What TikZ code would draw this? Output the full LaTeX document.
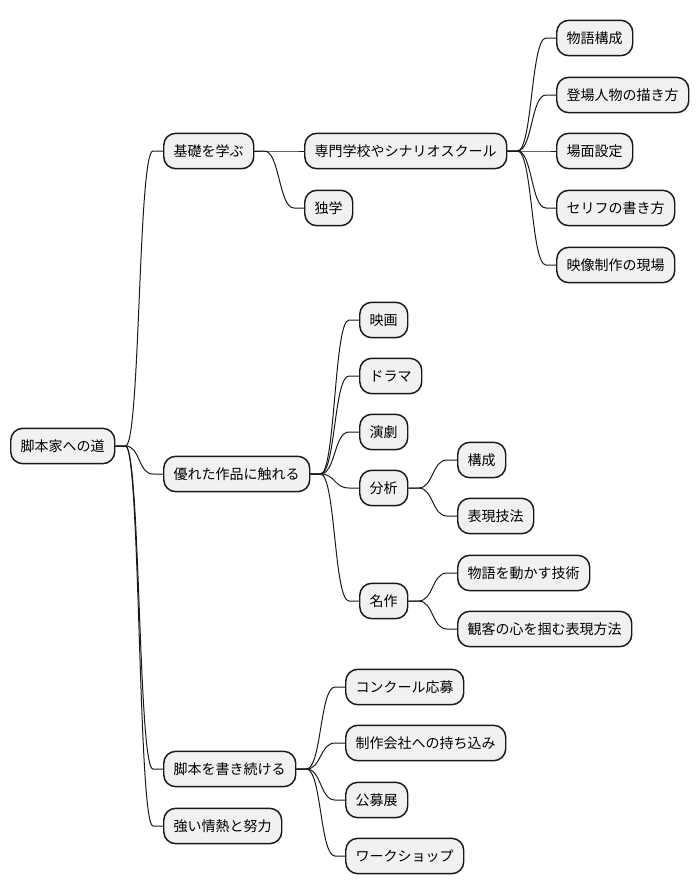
\documentclass[tikz,border=0pt]{standalone}
\usepackage{fontspec}
\setmainfont{Noto Sans CJK JP}
\usetikzlibrary{calc}

\begin{document}
\begin{tikzpicture}[
        x=0.75pt, y=-0.75pt,
        tema/.style={
            rectangle,
            rounded corners=9pt,
            anchor=west,
            minimum height=26.5pt,
            inner xsep=7.5pt,
            inner ysep=2pt,
            font=\fontsize{10.5}{12}\selectfont,
            draw=black!90,
            line width=1.1pt,
            fill=black!5.5
        },
        rama/.style={line width=0.75pt, draw=black!90}
    ]
        \useasboundingbox (0,0) rectangle (698,893);

        \node[tema] (raiz) at (10,446) {脚本家への道};

        \node[tema] (kiso) at (163,151) {基礎を学ぶ};
        \node[tema] (senmon) at (304,151) {専門学校やシナリオスクール};
        \node[tema] (dokugaku) at (304,208) {独学};
        \node[tema] (monogatari) at (556,38) {物語構成};
        \node[tema] (jinbutsu) at (556,95) {登場人物の描き方};
        \node[tema] (bamen) at (556,151) {場面設定};
        \node[tema] (serifu) at (556,208) {セリフの書き方};
        \node[tema] (genba) at (556,265) {映像制作の現場};

        \node[tema] (sakuhin) at (163,474) {優れた作品に触れる};
        \node[tema] (eiga) at (359,320) {映画};
        \node[tema] (dorama) at (359,376) {ドラマ};
        \node[tema] (engeki) at (359,432) {演劇};
        \node[tema] (bunseki) at (359,488) {分析};
        \node[tema] (kousei) at (457,460) {構成};
        \node[tema] (gihou) at (457,516) {表現技法};
        \node[tema] (meisaku) at (359,601) {名作};
        \node[tema] (gijutsu) at (457,573) {物語を動かす技術};
        \node[tema] (houhou) at (457,629) {観客の心を掴む表現方法};

        \node[tema] (kaku) at (163,769) {脚本を書き続ける};
        \node[tema] (konkuru) at (345,687) {コンクール応募};
        \node[tema] (mochikomi) at (345,743) {制作会社への持ち込み};
        \node[tema] (koubo) at (345,800) {公募展};
        \node[tema] (wakushoppu) at (345,856) {ワークショップ};

        \node[tema] (jounetsu) at (163,826) {強い情熱と努力};

        \foreach \a/\b in {raiz/kiso, raiz/sakuhin, raiz/kaku, raiz/jounetsu,
                kiso/senmon, kiso/dokugaku,
                senmon/monogatari, senmon/jinbutsu, senmon/bamen, senmon/serifu, senmon/genba,
                sakuhin/eiga, sakuhin/dorama, sakuhin/engeki, sakuhin/bunseki, sakuhin/meisaku,
                bunseki/kousei, bunseki/gihou, meisaku/gijutsu, meisaku/houhou,
                kaku/konkuru, kaku/mochikomi, kaku/koubo, kaku/wakushoppu}
            \draw[rama] (\a.east) -- ++(10,0)
                .. controls +(15,0) and +(-15,0) .. ($(\b.west)+(-10,0)$) -- (\b.west);
    \end{tikzpicture}
\end{document}
